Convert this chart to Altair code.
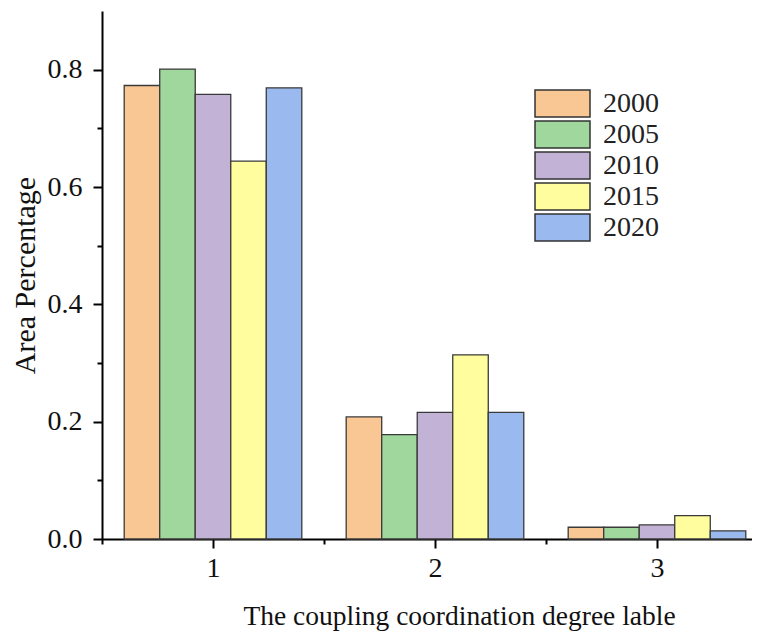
import altair as alt
import pandas as pd

categories = [1, 2, 3]
years = ["2000", "2005", "2010", "2015", "2020"]
values = {
    "2000": [0.773, 0.208, 0.020],
    "2005": [0.801, 0.178, 0.020],
    "2010": [0.758, 0.216, 0.024],
    "2015": [0.644, 0.314, 0.040],
    "2020": [0.769, 0.216, 0.014],
}
colors = ["#F9C794", "#9FD79C", "#C2B2D6", "#FFFD9E", "#9AB9EF"]

rows = []
for i, y in enumerate(years):
    for c, v in zip(categories, values[y]):
        rows.append({"cat": c, "year": y, "idx": i, "value": v})
df = pd.DataFrame(rows)

FONT = "Liberation Serif"
xscale = alt.Scale(domain=[0.5, 3.428], nice=False, zero=False)
yscale = alt.Scale(domain=[0, 0.9], nice=False)

base = alt.Chart(df).transform_calculate(
    x0="datum.cat - 0.4 + datum.idx * 0.16",
    x1="datum.cat - 0.4 + (datum.idx + 1) * 0.16",
)

bars = base.mark_bar(stroke="#3a3a3a", strokeWidth=1.3, opacity=1).encode(
    x=alt.X("x0:Q", scale=xscale,
            axis=alt.Axis(values=[1, 2, 3], format="d", title="The coupling coordination degree lable",
                          orient="bottom",
                          tickSize=9, tickWidth=2, domainWidth=2, domainColor="black", tickColor="black",
                          labelFont=FONT, labelFontSize=28, labelColor="#111", labelPadding=6,
                          titleFont=FONT, titleFontSize=27.5, titleFontWeight="normal", titleColor="#111",
                          titleX=357, titleY=85, titleBaseline="alphabetic", grid=False)),
    x2="x1:Q",
    y=alt.Y("value:Q", scale=yscale,
            axis=alt.Axis(values=[0, 0.2, 0.4, 0.6, 0.8], format=".1f", title="Area Percentage",
                          orient="left",
                          tickSize=9, tickWidth=2, domainWidth=2, domainColor="black", tickColor="black",
                          labelFont=FONT, labelFontSize=28, labelColor="#111", labelPadding=11,
                          titleFont=FONT, titleFontSize=30, titleFontWeight="normal", titleColor="#111",
                          titleX=-77, titleBaseline="middle", grid=False)),
    y2=alt.datum(0),
    color=alt.Color("year:N", scale=alt.Scale(domain=years, range=colors),
                    legend=alt.Legend(title=None, orient="none", legendX=446, legendY=78,
                                      symbolType="M-2,-0.98H2V0.98H-2Z", symbolSize=756,
                                      symbolStrokeColor="#333", symbolStrokeWidth=1.5,
                                      symbolOpacity=1, labelFont=FONT, labelFontSize=28,
                                      labelColor="#222", labelOffset=26, rowPadding=-2.5,
                                      padding=0)),
)

minor = base.mark_point(opacity=0).encode(
    x=alt.X("x0:Q", scale=xscale,
            axis=alt.Axis(values=[0.5, 1.5, 2.5], labels=False, title=None, domain=False,
                          orient="bottom",
                          tickSize=5, tickWidth=2, tickColor="black", grid=False)),
    y=alt.Y("value:Q", scale=yscale,
            axis=alt.Axis(values=[0.1, 0.3, 0.5, 0.7], labels=False, title=None, domain=False,
                          orient="left",
                          tickSize=5, tickWidth=2, tickColor="black", grid=False)),
)

chart = alt.layer(bars, minor).resolve_axis(x="independent", y="independent").properties(
    width=650, height=528,
    autosize=alt.AutoSizeParams(type="none"),
    padding={"left": 94, "top": 3, "right": 0, "bottom": 92},
    background="white",
).configure_view(stroke=None)

chart.save("out.html", embed_options={"renderer": "svg", "actions": False})
